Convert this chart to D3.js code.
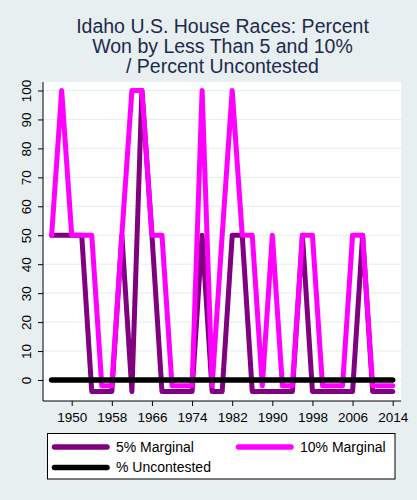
<!DOCTYPE html>
<html>
<head>
<meta charset="utf-8">
<script src="https://cdn.jsdelivr.net/npm/d3@7/dist/d3.min.js"></script>
<style>
  body { margin: 0; background: #e8eff1; }
  text { font-family: Arial, "Liberation Sans", sans-serif; }
</style>
</head>
<body>
<div id="chart"></div>
<script>
// election years, every 2 years
var years = d3.range(1946, 2015, 2);

// values as drawn (zeros sit slightly below the uncontested line)
var marg5 = [50, 50, 50, 50, -4, -4, -4, 50, -4, 100, 50, -4, -4, -4, -4, 50, -4, -4,
             50, 50, -4, -4, -4, -4, -4, 50, -4, -4, -4, -4, -4, 50, -4, -4, -4];
var marg10 = [50, 100, 50, 50, 50, -2, -2, 50, 100, 100, 50, 50, -2, -2, -2, 100, -2, 50,
              100, 50, 50, -2, 50, -2, -2, 50, 50, -2, -2, -2, 50, 50, -2, -2, -2];
var uncontested = years.map(function () { return 0; });

var xTicks = [1950, 1958, 1966, 1974, 1982, 1990, 1998, 2006, 2014];
var yTicks = d3.range(0, 101, 10);
var titleLines = ["Idaho U.S. House Races: Percent", "Won by Less Than 5 and 10%", "/ Percent Uncontested"];

var series = [
  {name: "5% Marginal", values: marg5, color: "#800080"},
  {name: "10% Marginal", values: marg10, color: "#ff00ff"},
  {name: "% Uncontested", values: uncontested, color: "#000000"}
];

var width = 417, height = 500;
var plot = {left: 43, right: 401, top: 82, bottom: 401};

var svg = d3.select("#chart").append("svg")
            .attr("width", width)
            .attr("height", height);

svg.append("rect")
   .attr("width", width)
   .attr("height", height)
   .attr("fill", "#e8eff1");

var x = d3.scaleLinear().domain([1950, 2014]).range([71.7, 392.7]);
var y = d3.scaleLinear().domain([0, 100]).range([380, 90.5]);

svg.append("rect")
   .attr("x", plot.left)
   .attr("y", plot.top)
   .attr("width", plot.right - plot.left)
   .attr("height", plot.bottom - plot.top)
   .attr("fill", "white");

// grid
svg.append("g").selectAll("line")
   .data(yTicks)
   .enter().append("line")
   .attr("x1", plot.left)
   .attr("x2", plot.right)
   .attr("y1", function (d) { return y(d); })
   .attr("y2", function (d) { return y(d); })
   .attr("stroke", "#e4ecee")
   .attr("stroke-width", 1);

// axes
var yAxis = svg.append("g")
   .attr("transform", "translate(" + plot.left + ",0)")
   .call(d3.axisLeft(y).tickValues(yTicks).tickSize(5).tickPadding(5));

var xAxis = svg.append("g")
   .attr("transform", "translate(0," + plot.bottom + ")")
   .call(d3.axisBottom(x).tickValues(xTicks).tickFormat(d3.format("d")).tickSize(5).tickPadding(4));

yAxis.select(".domain").attr("d", "M0," + plot.top + "V" + plot.bottom);
xAxis.select(".domain").attr("d", "M" + plot.left + ",0H" + plot.right);

[xAxis, yAxis].forEach(function (a) {
  a.selectAll(".domain, .tick line").attr("stroke", "#000").attr("stroke-width", 1);
  a.selectAll("text").attr("fill", "#000").attr("font-size", "13.5px")
   .attr("font-family", "Arial, 'Liberation Sans', sans-serif");
});

yAxis.selectAll(".tick text")
     .attr("text-anchor", "middle")
     .attr("dy", null)
     .attr("x", null)
     .attr("transform", "translate(-17,0) rotate(-90)")
     .attr("y", 0)
     .attr("dy", "0.35em");

xAxis.selectAll(".tick text").attr("dy", "0.9em");

// lines
var line = d3.line()
   .x(function (d, i) { return x(years[i]); })
   .y(function (d) { return y(d); });

svg.append("g").selectAll("path")
   .data(series)
   .enter().append("path")
   .attr("d", function (s) { return line(s.values); })
   .attr("fill", "none")
   .attr("stroke", function (s) { return s.color; })
   .attr("stroke-width", function (s, i) { return i == 2 ? 5.5 : 5; })
   .attr("stroke-linejoin", "round")
   .attr("stroke-linecap", "round");

// title
svg.append("text")
   .attr("text-anchor", "middle")
   .attr("fill", "#1c2a4c")
   .attr("font-size", "19.5px")
   .selectAll("tspan")
   .data(titleLines)
   .enter().append("tspan")
   .attr("x", 222.5)
   .attr("y", function (d, i) { return 33 + i * 20; })
   .text(function (d) { return d; });

// legend
var legend = svg.append("g");
legend.append("rect")
   .attr("x", 47.5)
   .attr("y", 433.5)
   .attr("width", 347.5)
   .attr("height", 45.5)
   .attr("fill", "white")
   .attr("stroke", "#000")
   .attr("stroke-width", 1);

var items = legend.selectAll("g.item")
   .data(series)
   .enter().append("g")
   .attr("class", "item")
   .attr("transform", function (s, i) {
     return "translate(" + (i == 1 ? 236 : 52) + "," + (i == 2 ? 467.5 : 447) + ")";
   });

items.append("line")
   .attr("x1", 2.5).attr("x2", 55)
   .attr("stroke", function (s) { return s.color; })
   .attr("stroke-width", 5.5)
   .attr("stroke-linecap", "round");

items.append("text")
   .attr("x", 64)
   .attr("dy", "0.35em")
   .attr("font-size", "14px")
   .attr("fill", "#000")
   .text(function (s) { return s.name; });
</script>
</body>
</html>
